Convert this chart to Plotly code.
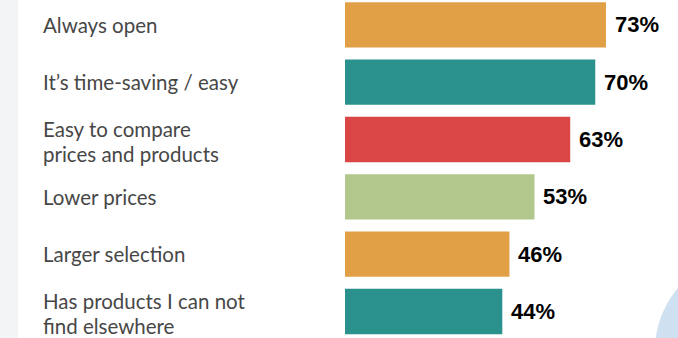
import plotly.graph_objects as go

# Survey answers: reasons for shopping online
categories = [
    ["Always open"],
    ["It\u2019s time-saving / easy"],
    ["Easy to compare", "prices and products"],
    ["Lower prices"],
    ["Larger selection"],
    ["Has products I can not", "find elsewhere"],
]
values = [73, 70, 63, 53, 46, 44]
bar_colors = ["#E2A046", "#2A918C", "#DA4646", "#B2C78C", "#E2A046", "#2A918C"]

W, H = 678, 338
rows = list(range(len(values)))

fig = go.Figure(
    go.Bar(
        x=values,
        y=rows,
        orientation="h",
        width=0.79,
        marker=dict(color=bar_colors, line=dict(width=0)),
        hoverinfo="skip",
    )
)

annotations = []
# Value labels at the end of each bar
for r, v in zip(rows, values):
    annotations.append(dict(
        x=v, y=r, xref="x", yref="y", text=f"<b>{v}%</b>",
        showarrow=False, xanchor="left", yanchor="middle", xshift=7,
        font=dict(family="Liberation Sans, Arial, sans-serif", size=22, color="#000000"),
    ))

# Category labels, one annotation per text line
line_gap = 24.5
for r, lines in zip(rows, categories):
    n = len(lines)
    for k, line in enumerate(lines):
        shift = 0 if n == 1 else -2 + (n - 1) / 2 * line_gap - k * line_gap
        annotations.append(dict(
            x=42 / W, y=r, xref="paper", yref="y", text=line,
            showarrow=False, xanchor="left", yanchor="middle", yshift=shift,
            borderpad=0,
            font=dict(family="Lato, sans-serif", size=20.5, color="#474747"),
        ))

shapes = [
    # pale strip on the left edge
    dict(type="rect", xref="paper", yref="paper", x0=0, x1=18 / W, y0=0, y1=1,
         fillcolor="#F3F4F6", line=dict(width=0), layer="below"),
    # decorative circle in the lower right corner
    dict(type="circle", xref="paper", yref="paper",
         x0=(750 - 95) / W, x1=(750 + 95) / W,
         y0=1 - (350 + 95) / H, y1=1 - (350 - 95) / H,
         fillcolor="#CFE0F0", line=dict(width=0), layer="below"),
]

x0_px = 345
px_per_unit = 3.575
pitch = 57.34
top_center = 24.8

fig.update_layout(
    width=W, height=H,
    margin=dict(l=0, r=0, t=0, b=0),
    paper_bgcolor="#FFFFFF", plot_bgcolor="rgba(0,0,0,0)",
    showlegend=False,
    xaxis=dict(domain=[x0_px / W, 1], range=[0, (W - x0_px) / px_per_unit],
               visible=False, fixedrange=True),
    yaxis=dict(domain=[0, 1],
               range=[(H - top_center) / pitch, -top_center / pitch],
               visible=False, fixedrange=True),
    annotations=annotations,
    shapes=shapes,
)

fig.write_html("out.html")
